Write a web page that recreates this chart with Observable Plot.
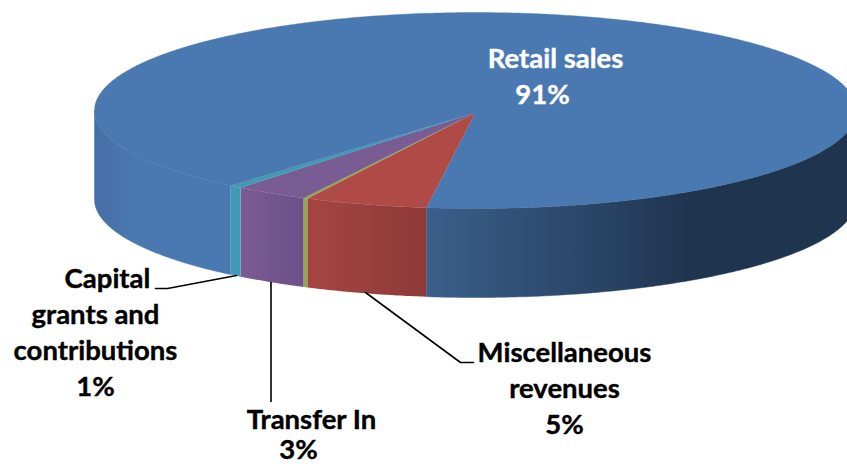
<!DOCTYPE html>
<html><head><meta charset="utf-8">
<script src="https://cdn.jsdelivr.net/npm/d3@7"></script>
<script src="https://cdn.jsdelivr.net/npm/@observablehq/plot@0.6"></script>
<style>html,body{margin:0;padding:0;background:#fff;overflow:hidden}</style>
</head><body><div id="chart"></div>
<script>
// Data: share of revenue, going clockwise from the front-right edge of the red slice
const categories = ["Miscellaneous revenues", "Other", "Transfer In", "Capital grants and contributions", "Retail sales"];
const shares = [5.22, 0.18, 3.12, 0.53, 90.95];
const topColors = ["#b04a46", "#8cab4c", "#7a5c94", "#3f9ab6", "#4a78b0"];
const labelTexts = ["Retail sales", "91%", "Capital", "grants and", "contributions", "1%", "Transfer In", "3%", "Miscellaneous", "revenues", "5%"];
const labelX = [555, 542, 107, 95, 95, 95, 311, 298, 564, 564, 564];
const labelY = [59, 95, 279, 315, 351, 387, 420, 450, 353, 389, 425];
const labelFill = ["#fff", "#fff", "#000", "#000", "#000", "#000", "#000", "#000", "#000", "#000", "#000"];

// Projection of the disc
const W = 847, H = 467;
const cx = 475, cy = 110, rx = 381, ry = 98, depth = 89, ax = 475, ay = 112, startDeg = 7.4;

const rad = d => d * Math.PI / 180;
const rim = (deg, dz = 0) => ({x: cx - rx * Math.sin(rad(deg)), y: cy + ry * Math.cos(rad(deg)) + dz});
function arc(a, b, dz = 0) {
  const n = Math.max(2, Math.ceil(Math.abs(b - a) * 2));
  return d3.range(n + 1).map(i => rim(a + (b - a) * i / n, dz));
}
let acc = startDeg;
const slices = shares.map((s, i) => {
  const a = acc; acc += s * 3.6;
  return {name: categories[i], a, b: acc, color: topColors[i]};
});
const topFace = s => [{x: ax, y: ay}, ...arc(s.a, s.b)];
// Visible wall: only the front half of the rim (angles within ±90° of the front)
const wall = (a, b) => [...arc(a, b), ...arc(b, a, depth)];

const wallMarks = [
  Plot.line(wall(-90, slices[0].a), {x: "x", y: "y", fill: "url(#wallBlue)", stroke: "url(#wallBlue)", strokeWidth: 0.5}),
  Plot.line(wall(slices[3].b, 90), {x: "x", y: "y", fill: "url(#wallBlue)", stroke: "url(#wallBlue)", strokeWidth: 0.5}),
  Plot.line(wall(slices[0].a, slices[0].b), {x: "x", y: "y", fill: "url(#wallRed)", stroke: "none"}),
  Plot.line(wall(slices[1].a, slices[1].b), {x: "x", y: "y", fill: "#8cab4c", stroke: "none"}),
  Plot.line(wall(slices[2].a, slices[2].b), {x: "x", y: "y", fill: "url(#wallPurple)", stroke: "none"}),
  Plot.line(wall(slices[3].a, slices[3].b), {x: "x", y: "y", fill: "#3f9ab6", stroke: "none"})
];
const topMarks = slices.map(s => Plot.line(topFace(s), {x: "x", y: "y", fill: s.color, stroke: s.color, strokeWidth: 0.4}));

const leaders = [
  [{x: 155, y: 288}, {x: 167, y: 288}, {x: 236, y: 275}],
  [{x: 270.5, y: 282}, {x: 270.5, y: 401}],
  [{x: 365, y: 292}, {x: 460, y: 362}, {x: 473, y: 362}]
];

function defs() {
  const ns = "http://www.w3.org/2000/svg";
  const d = document.createElementNS(ns, "defs");
  const grads = {
    wallBlue: [[94, "#4670a6"], [135, "#4a78b0"], [230, "#4a78b0"], [426, "#3b5f8b"], [500, "#33537a"], [600, "#294465"], [690, "#1f344e"], [847, "#1f344e"]],
    wallRed: [[306, "#a54543"], [426, "#8e3a38"]],
    wallPurple: [[240, "#7a5b94"], [303, "#6d5088"]]
  };
  for (const [id, stops] of Object.entries(grads)) {
    const g = document.createElementNS(ns, "linearGradient");
    g.setAttribute("id", id);
    g.setAttribute("gradientUnits", "userSpaceOnUse");
    g.setAttribute("x1", 0); g.setAttribute("x2", W); g.setAttribute("y1", 0); g.setAttribute("y2", 0);
    for (const [x, c] of stops) {
      const st = document.createElementNS(ns, "stop");
      st.setAttribute("offset", x / W);
      st.setAttribute("stop-color", c);
      g.appendChild(st);
    }
    d.appendChild(g);
  }
  return d;
}

const labels = labelTexts.map((t, i) => ({t, x: labelX[i], y: labelY[i], c: labelFill[i]}));

const chart = Plot.plot({
  width: W, height: H, margin: 0,
  style: {overflow: "hidden", background: "#fff"},
  x: {domain: [0, W], range: [0, W], axis: null},
  y: {domain: [0, H], range: [0, H], axis: null},
  marks: [
    defs,
    ...wallMarks,
    ...topMarks,
    ...leaders.map(l => Plot.line(l, {x: "x", y: "y", stroke: "#000", strokeWidth: 1.6})),
    Plot.text(labels, {x: "x", y: "y", text: "t", fill: "c", stroke: "c", strokeWidth: 0.4, fontFamily: "Lato", fontWeight: 700, fontSize: 27.5, textAnchor: "middle", lineAnchor: "middle"})
  ]
});
document.getElementById("chart").appendChild(chart);
</script></body></html>
